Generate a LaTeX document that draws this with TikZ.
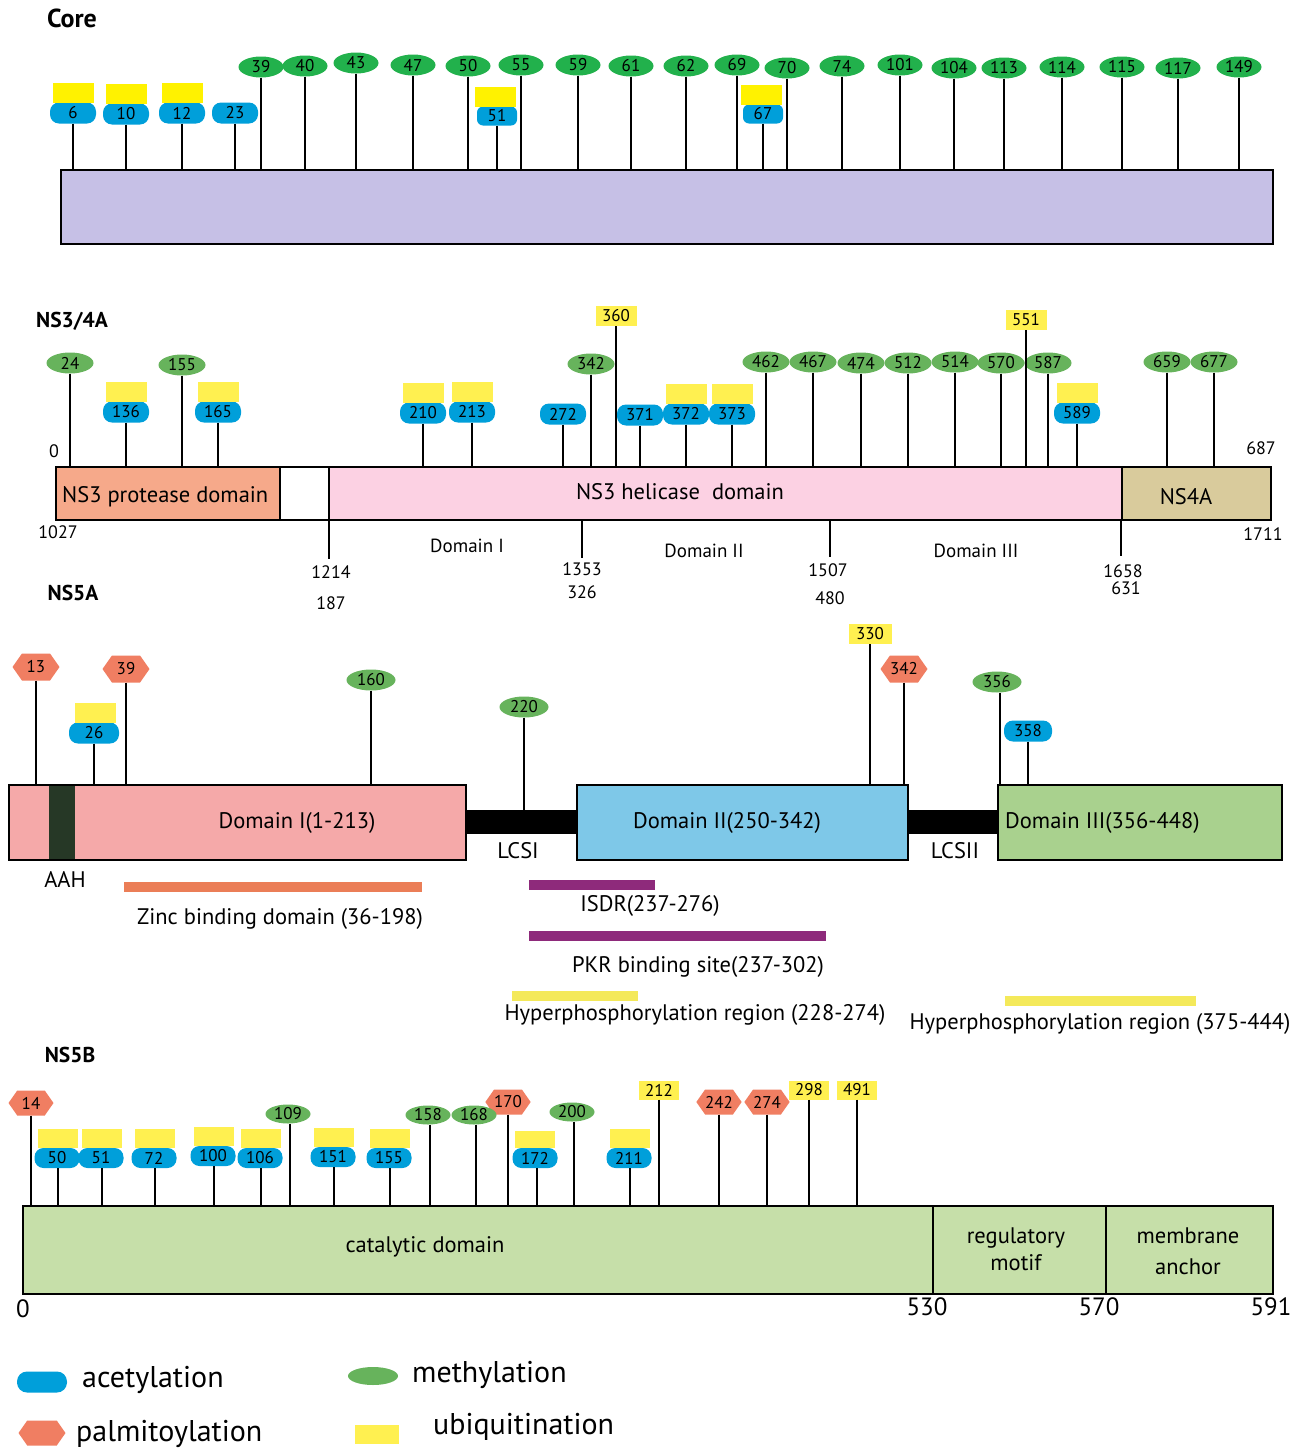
\documentclass[tikz,border=0pt]{standalone}
\usepackage{fontspec}
\setmainfont{PT Sans}
\usetikzlibrary{shapes.geometric,shapes.symbols,shapes.misc}
\definecolor{acblue}{HTML}{009FDA}
\definecolor{coregreen}{HTML}{22B14C}
\definecolor{megreen}{HTML}{67B35C}
\definecolor{coreyel}{HTML}{FFF200}
\definecolor{ubyel}{HTML}{FFF050}
\definecolor{palmcol}{HTML}{F07E62}
\definecolor{corefill}{HTML}{C6C0E6}
\definecolor{protfill}{HTML}{F6A98A}
\definecolor{helfill}{HTML}{FCD1E3}
\definecolor{nsfourfill}{HTML}{D9CB9C}
\definecolor{domIfill}{HTML}{F5A9A9}
\definecolor{aahfill}{HTML}{263826}
\definecolor{domIIfill}{HTML}{7EC8E8}
\definecolor{domIIIfill}{HTML}{A9D18E}
\definecolor{nsbfill}{HTML}{C6DFA9}
\definecolor{zincbar}{HTML}{EB7E57}
\definecolor{isdrbar}{HTML}{8E2A7B}
\definecolor{hypbar}{HTML}{F4E95A}
\newcommand{\fsz}[1]{\fontsize{#1}{#1}\selectfont}
\tikzset{
  acet/.style={rectangle, rounded corners=9pt, fill=acblue, minimum width=46pt, minimum height=21pt, inner sep=0pt, outer sep=0pt, font=\fsz{17}},
  meth/.style={ellipse, fill=megreen, minimum width=47pt, minimum height=21pt, inner sep=0pt, outer sep=0pt, font=\fsz{17}},
  cmeth/.style={meth, fill=coregreen, minimum width=45pt, minimum height=21pt},
  ubq/.style={rectangle, fill=ubyel, minimum width=41pt, minimum height=20pt, inner sep=0pt, outer sep=0pt, font=\fsz{17}},
  cubq/.style={ubq, fill=coreyel},
  palmit/.style={signal, signal to=east and west, signal pointer angle=110, fill=palmcol, minimum width=47pt, minimum height=27pt, inner sep=0pt, outer sep=0pt, font=\fsz{17}},
  stem/.style={line width=1.8pt},
  domainbox/.style={draw, line width=2.5pt, anchor=north west, inner sep=0pt, outer sep=0pt},
  lab/.style={inner sep=0pt, font=\fsz{22.5}},
  axlab/.style={inner sep=0pt, font=\fsz{18}},
  dlab/.style={inner sep=0pt, font=\fsz{19}},
  bigax/.style={inner sep=0pt, font=\fsz{25}},
  legend/.style={inner sep=0pt, anchor=west, font=\fsz{30}},
  title/.style={inner sep=0pt, font=\fsz{21.5}\bfseries},
  bar/.style={draw=none, inner sep=0pt, outer sep=0pt, anchor=north west},
}
\begin{document}
\begin{tikzpicture}[x=1pt,y=-1pt]
\useasboundingbox[fill=white] (0,0) rectangle (1306,1451);

%================ CORE =================
\node[title, font=\fsz{26}\bfseries] (tcore) at (72,18) {Core};
\node[domainbox, line width=2pt, fill=corefill, minimum width=1212pt, minimum height=74pt] (core) at (61,170) {};
\foreach \l/\x/\y in {39/261/67, 40/305/66, 43/356/63, 47/413/65, 50/468/66, 55/521/65, 59/578/65, 61/631/66, 62/686/66, 69/737/65, 70/787/68, 74/842/66, 101/900/65, 104/954/68, 113/1004/68, 114/1062/67, 115/1122/67, 117/1178/68, 149/1239/67}{
  \node[cmeth] (c\l) at (\x,\y) {\l};
  \draw[stem] (c\l.south) -- (c\l.south |- core.north);
}
\foreach \l/\x/\y in {6/73/113, 10/126/114, 12/182/113}{
  \node[acet] (ca\l) at (\x,\y) {\l};
  \node[cubq, anchor=south] (cu\l) at (ca\l.north) {};
  \draw[stem] (ca\l.south) -- (ca\l.south |- core.north);
}
\node[acet] (ca23) at (235,113) {23};
\draw[stem] (ca23.south) -- (ca23.south |- core.north);
\foreach \l/\x/\y in {51/497/116, 67/763/114}{
  \node[acet, minimum width=40pt, minimum height=19pt, rounded corners=6pt] (ca\l) at (\x,\y) {\l};
  \node[cubq, anchor=south] (cu\l) at ([xshift=-2pt]ca\l.north) {};
  \draw[stem] (ca\l.south) -- (ca\l.south |- core.north);
}

%================ NS3/4A =================
\node[title] (tns3) at (72,321) {NS3/4A};
\node[domainbox, fill=protfill, minimum width=224pt, minimum height=53pt] (prot) at (56,467) {};
\node[domainbox, fill=white, minimum width=49pt, minimum height=53pt] (gapbox) at (280,467) {};
\node[domainbox, fill=helfill, minimum width=793pt, minimum height=53pt] (hel) at (329,467) {};
\node[domainbox, fill=nsfourfill, minimum width=149pt, minimum height=53pt] (nsfour) at (1122,467) {};
\node[lab, anchor=west] (tprot) at (62,497) {NS3 protease domain};
\node[lab] (thel) at (680,492) {NS3 helicase\ \ domain};
\node[lab] (tnsfour) at (1186,497) {NS4A};

\foreach \l/\x/\y in {24/70/363, 155/182/365, 342/591/364, 462/766/362, 467/813/362, 474/861/363, 512/908/363, 514/955/362, 570/1001/363, 587/1048/363, 659/1167/362, 677/1214/362}{
  \node[meth] (n\l) at (\x,\y) {\l};
  \draw[stem] (n\l.south) -- (n\l.south |- hel.north);
}
\foreach \l/\x/\y in {136/126/412, 165/218/412, 210/423/413, 213/472/412, 372/686/414, 373/732/414, 589/1077/413}{
  \node[acet] (na\l) at (\x,\y) {\l};
  \node[ubq, anchor=south] (nu\l) at (na\l.north) {};
  \draw[stem] (na\l.south) -- (na\l.south |- hel.north);
}
\foreach \l/\x/\y in {272/563/414, 371/640/415}{
  \node[acet] (na\l) at (\x,\y) {\l};
  \draw[stem] (na\l.south) -- (na\l.south |- hel.north);
}
\foreach \l/\x/\y in {360/616/316, 551/1026/320}{
  \node[ubq] (nu\l) at (\x,\y) {\l};
  \draw[stem] (nu\l.south) -- (nu\l.south |- hel.north);
}
% axis ticks
\coordinate (tkA) at (329,559);
\coordinate (tkB) at (582,558);
\coordinate (tkC) at (830,557);
\coordinate (tkD) at (1121,556);
\foreach \t in {tkA,tkB,tkC,tkD}{
  \draw[stem] (\t |- hel.south) -- (\t);
}
\node[axlab] (p0) at (54,451) {0};
\node[axlab] (p687) at (1261,448) {687};
\node[axlab] (p1027) at (58,532) {1027};
\node[axlab] (p1711) at (1263,534) {1711};
\node[axlab] (p1214) at (331,572) {1214};
\node[axlab] (p187) at (331,603) {187};
\node[axlab] (p1353) at (582,569) {1353};
\node[axlab] (p326) at (582,592) {326};
\node[axlab] (p1507) at (828,570) {1507};
\node[axlab] (p480) at (830,598) {480};
\node[axlab] (p1658) at (1123,571) {1658};
\node[axlab] (p631) at (1126,588) {631};
\node[dlab] (dI) at (467,546) {Domain I};
\node[dlab] (dII) at (704,551) {Domain II};
\node[dlab] (dIII) at (976,551) {Domain III};

%================ NS5A =================
\node[title] (tns5a) at (73,593) {NS5A};
\node[domainbox, fill=black, minimum width=111pt, minimum height=22pt] (lcsi) at (466,811) {};
\node[domainbox, fill=black, minimum width=90pt, minimum height=22pt] (lcsii) at (908,811) {};
\node[domainbox, fill=domIfill, minimum width=457pt, minimum height=75pt] (domI) at (9,785) {};
\node[bar, fill=aahfill, minimum width=26pt, minimum height=73pt] (aah) at (49,786) {};
\node[domainbox, fill=domIIfill, minimum width=331pt, minimum height=75pt] (domII) at (577,785) {};
\node[domainbox, fill=domIIIfill, minimum width=284pt, minimum height=75pt] (domIII) at (998,785) {};
\node[lab] (tdI) at (297,823) {Domain I(1-213)};
\node[lab] (tdII) at (727,823) {Domain II(250-342)};
\node[lab, anchor=west] (tdIII) at (1005,823) {Domain III(356-448)};
\node[lab] (tlcsi) at (518,851) {LCSI};
\node[lab] (tlcsii) at (955,851) {LCSII};
\node[lab] (taah) at (65,879) {AAH};

\foreach \l/\x/\y in {13/36/667, 39/126/669, 342/904/669}{
  \node[palmit] (ap\l) at (\x,\y) {\l};
  \draw[stem] (ap\l.south) -- (ap\l.south |- domI.north);
}
\node[acet, minimum width=50pt] (aa26) at (94,733) {26};
\node[ubq, anchor=south] (au26) at ([xshift=1pt]aa26.north) {};
\draw[stem] (aa26.south) -- (aa26.south |- domI.north);
\node[meth, minimum width=49pt] (am160) at (371,680) {160};
\draw[stem] (am160.south) -- (am160.south |- domI.north);
\node[meth, minimum width=49pt] (am220) at (524,707) {220};
\draw[stem] (am220.south) -- (am220.south |- lcsi.north);
\node[ubq, minimum width=43pt] (au330) at (870,634) {330};
\draw[stem] (au330.south) -- (au330.south |- domII.north);
\node[meth, minimum width=49pt] (am356) at (997,682) {356};
\draw[stem] ([xshift=3pt]am356.south) -- ([xshift=3pt]am356.south |- domIII.north);
\node[acet, minimum width=48pt] (aa358) at (1028,731) {358};
\draw[stem] (aa358.south) -- (aa358.south |- domIII.north);

\node[bar, fill=zincbar, minimum width=298pt, minimum height=10pt] (zinc) at (124,882) {};
\node[lab] (tzinc) at (280,919) {Zinc binding domain (36-198)};
\node[bar, fill=isdrbar, minimum width=126pt, minimum height=10pt] (isdr) at (529,880) {};
\node[lab] (tisdr) at (650,906) {ISDR(237-276)};
\node[bar, fill=isdrbar, minimum width=297pt, minimum height=10pt] (pkr) at (529,931) {};
\node[lab] (tpkr) at (698,967) {PKR binding site(237-302)};
\node[bar, fill=hypbar, minimum width=126pt, minimum height=10pt] (hypA) at (512,991) {};
\node[lab] (thypA) at (695,1015) {Hyperphosphorylation region (228-274)};
\node[bar, fill=hypbar, minimum width=191pt, minimum height=10pt] (hypB) at (1005,996) {};
\node[lab] (thypB) at (1100,1024) {Hyperphosphorylation region (375-444)};

%================ NS5B =================
\node[title] (tns5b) at (70,1055) {NS5B};
\node[domainbox, fill=nsbfill, minimum width=910pt, minimum height=88pt] (cat) at (23,1206) {};
\node[domainbox, fill=nsbfill, minimum width=173pt, minimum height=88pt] (reg) at (933,1206) {};
\node[domainbox, fill=nsbfill, minimum width=167pt, minimum height=88pt] (mem) at (1106,1206) {};
\node[lab] (tcat) at (425,1247) {catalytic domain};
\node[lab, align=center] (treg) at (1016,1249) {regulatory\\[5pt]motif};
\node[lab, align=center] (tmem) at (1188,1251) {membrane\\[8pt]anchor};
\node[bigax] (b0) at (23,1309) {0};
\node[bigax] (b530) at (927,1307) {530};
\node[bigax] (b570) at (1099,1307) {570};
\node[bigax] (b591) at (1271,1307) {591};

\foreach \l/\x/\y in {14/31/1103, 170/508/1102, 242/719/1102, 274/767/1102}{
  \node[palmit, minimum width=45pt, minimum height=25pt] (bp\l) at (\x,\y) {\l};
  \draw[stem] (bp\l.south) -- (bp\l.south |- cat.north);
}
\foreach \l/\x/\y in {50/57/1158, 51/101/1158, 72/154/1158, 100/213/1156, 106/260/1158, 151/333/1157, 155/389/1158, 211/629/1158}{
  \node[acet, minimum width=45pt, minimum height=20pt] (ba\l) at (\x,\y) {\l};
  \node[ubq, minimum width=40pt, minimum height=19pt, anchor=south] (bu\l) at ([xshift=1pt]ba\l.north) {};
  \draw[stem] ([xshift=1pt]ba\l.south) -- ([xshift=1pt]ba\l.south |- cat.north);
}
\node[acet, minimum width=45pt, minimum height=20pt] (ba172) at (535,1158) {172};
\node[ubq, minimum width=40pt, minimum height=17pt, anchor=south] (bu172) at (ba172.north) {};
\draw[stem] ([xshift=2pt]ba172.south) -- ([xshift=2pt]ba172.south |- cat.north);
\foreach \l/\x/\y in {109/288/1114, 158/428/1115, 168/474/1115, 200/572/1112}{
  \node[meth, minimum width=45pt, minimum height=19pt] (bm\l) at (\x,\y) {\l};
  \draw[stem] ([xshift=2pt]bm\l.south) -- ([xshift=2pt]bm\l.south |- cat.north);
}
\foreach \l/\x/\y in {212/659/1090, 298/809/1090, 491/857/1090}{
  \node[ubq, minimum width=40pt, minimum height=19pt] (bu\l) at (\x,\y) {\l};
  \draw[stem] (bu\l.south) -- (bu\l.south |- cat.north);
}

%================ LEGEND =================
\node[acet, minimum width=50pt, minimum height=21pt, rounded corners=10pt] (lga) at (42,1382) {};
\node[legend] (lta) at (82,1380) {acetylation};
\node[palmit, minimum width=47pt, minimum height=25pt] (lgp) at (42,1433) {};
\node[legend] (ltp) at (76,1434) {palmitoylation};
\node[meth, minimum width=50pt, minimum height=18pt] (lgm) at (373,1376) {};
\node[legend] (ltm) at (412,1375) {methylation};
\node[ubq, minimum width=44pt, minimum height=19pt] (lgu) at (377,1434) {};
\node[legend] (ltu) at (433,1427) {ubiquitination};
\end{tikzpicture}
\end{document}
